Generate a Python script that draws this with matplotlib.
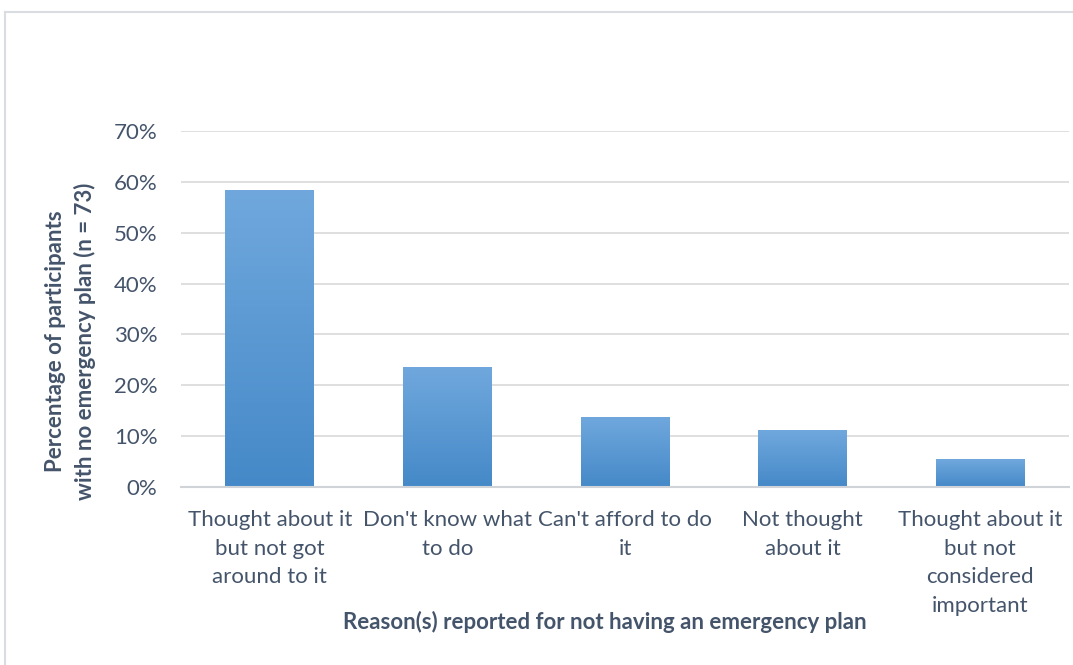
import matplotlib
matplotlib.use("Agg")
import matplotlib.pyplot as plt
import numpy as np
from matplotlib.colors import LinearSegmentedColormap

categories = ["Thought about it\nbut not got\naround to it",
              "Don't know what\nto do",
              "Can't afford to do\nit",
              "Not thought\nabout it",
              "Thought about it\nbut not\nconsidered\nimportant"]
values = [58.4, 23.6, 13.8, 11.2, 5.5]
yticks = [0, 10, 20, 30, 40, 50, 60, 70]
ytick_labels = [f"{t}%" for t in yticks]
xlabel = "Reason(s) reported for not having an emergency plan"
ylabel = "Percentage of participants\nwith no emergency plan (n = 73)"

plt.rcParams['font.family'] = ['Lato', 'DejaVu Sans']
text_color = "#44546A"
W, H = 1073, 665
fig = plt.figure(figsize=(W / 100, H / 100), dpi=100)

# outer frame (top and left edges visible)
fig.add_artist(plt.Line2D([4.5 / W, 4.5 / W], [0, 1 - 11.5 / H], color="#D9DDE2", lw=1.5))
fig.add_artist(plt.Line2D([4.5 / W, 1], [1 - 11.5 / H, 1 - 11.5 / H], color="#D9DDE2", lw=1.5))

left, right = 181 / W, 1069 / W
bottom, top = 1 - 487 / H, 1 - 131 / H
ax = fig.add_axes([left, bottom, right - left, top - bottom])

x = np.arange(len(categories))
bars = ax.bar(x, values, width=0.5, color="none", zorder=3)
cmap = LinearSegmentedColormap.from_list("g", ["#4589C8", "#70A8DD"])
grad = np.linspace(0, 1, 256).reshape(-1, 1)
for b in bars:
    x0, w, h = b.get_x(), b.get_width(), b.get_height()
    im = ax.imshow(grad, cmap=cmap, origin="lower", aspect="auto",
                   extent=[x0, x0 + w, 0, h], zorder=3)
    im.set_clip_path(b)

ax.set_xlim(-0.5, len(categories) - 0.5)
ax.set_ylim(0, 70)
ax.set_yticks(yticks)
ax.set_yticklabels(ytick_labels)
ax.set_xticks(x)
ax.set_xticklabels(categories, linespacing=1.54)
ax.grid(axis="y", color="#D9D9D9", lw=1.2, zorder=0)
ax.set_axisbelow(True)
for s in ["top", "right", "left"]:
    ax.spines[s].set_visible(False)
ax.spines["bottom"].set_color("#D0D4D9")
ax.spines["bottom"].set_linewidth(1.5)
ax.spines["bottom"].set_zorder(4)
ax.tick_params(axis="both", length=0, labelsize=16, colors=text_color)
ax.tick_params(axis="x", pad=16.5)
ax.tick_params(axis="y", pad=17)

ax.set_xlabel(xlabel, fontsize=16, fontweight="bold", color=text_color)
ax.xaxis.set_label_coords((605 - 181) / 888, (487 - 611) / 356)
ax.set_ylabel(ylabel, fontsize=16, fontweight="bold", color=text_color,
              linespacing=1.45)
ax.yaxis.set_label_coords((96 - 181) / 888, (487 - 341) / 356)

fig.savefig("out.png", dpi=100, facecolor="white")
